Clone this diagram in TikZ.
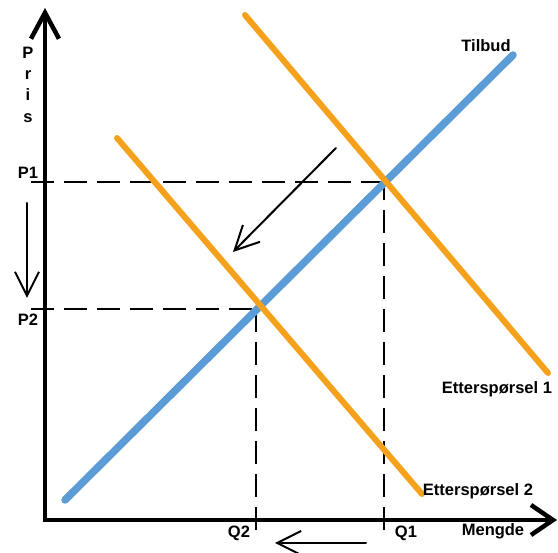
\documentclass[tikz,border=0pt]{standalone}
\usepackage{fontspec}
\setmainfont{Liberation Sans}
\usetikzlibrary{arrows.meta}
\definecolor{demandorange}{HTML}{F6A11C}
\definecolor{supplyblue}{HTML}{5B9BD6}
\begin{document}
\begin{tikzpicture}[x=1pt, y=-1pt,
  axisline/.style={line width=4.5pt, miter limit=10},
  demand/.style={demandorange, line width=6pt, line cap=round},
  supply/.style={supplyblue, line width=7.5pt, line cap=round},
  guide/.style={line width=2pt, dash pattern=on 23pt off 10pt},
  movearrow/.style={line width=2pt, line cap=round, -{Straight Barb[length=24pt, width=24pt]}},
  lbl/.style={font=\bfseries\fontsize{16.5}{19}\selectfont, inner sep=0pt}]
 \useasboundingbox (0,0) rectangle (558,553);
 % axes
 \coordinate (O) at (45,520);
 \coordinate (ytop) at (45,8);
 \coordinate (xend) at (557,520);
 % equilibria
 \coordinate (E1) at (384,182);
 \coordinate (E2) at (256,309);
 \coordinate (p1) at (31,182);
 \coordinate (p2) at (31,309);
 \coordinate (q1) at (384,530);
 \coordinate (q2) at (256,530);
 % curves
 \coordinate (s0) at (65,500);
 \coordinate (s1) at (513,55);
 \coordinate (d1a) at (245,15);
 \coordinate (d1b) at (548,373);
 \coordinate (d2a) at (117,138);
 \coordinate (d2b) at (422,494);
 % shift arrows
 \coordinate (pa) at (27,203);
 \coordinate (pb) at (27,298);
 \coordinate (qa) at (366,543);
 \coordinate (qb) at (275,543);
 \coordinate (da) at (336,148);
 \coordinate (db) at (233,252);

 \draw[guide] (p1) -- (E1);
 \draw[guide] (q1) -- (E1);
 \draw[guide] (p2) -- (E2);
 \draw[guide] (q2) -- (E2);
 \draw[supply] (s0) -- (s1);
 \draw[demand] (d1a) -- (d1b);
 \draw[demand] (d2a) -- (d2b);
 \draw[axisline, {Straight Barb[length=26pt, width=28pt]}-{Straight Barb[length=22pt, width=30pt]}] (ytop) -- (O) -- (xend);

 \draw[movearrow] (pa) -- (pb);
 \draw[movearrow] (qa) -- (qb);
 \draw[movearrow] (da) -- (db);

 \foreach \c [count=\i] in {P,r,i,s}
  \node[lbl, anchor=base] (pris\i) at (28,37+21.3*\i) {\c};
 \node[lbl] (p1lbl) at (28,173) {P1};
 \node[lbl] (p2lbl) at (28,320) {P2};
 \node[lbl] (q1lbl) at (406,533) {Q1};
 \node[lbl] (q2lbl) at (239,533) {Q2};
 \node[lbl] (mengde) at (493,531) {Mengde};
 \node[lbl] (tilbud) at (486,46) {Tilbud};
 \node[lbl] (ett1) at (497,389) {Etterspørsel 1};
 \node[lbl] (ett2) at (478,491) {Etterspørsel 2};
\end{tikzpicture}
\end{document}
